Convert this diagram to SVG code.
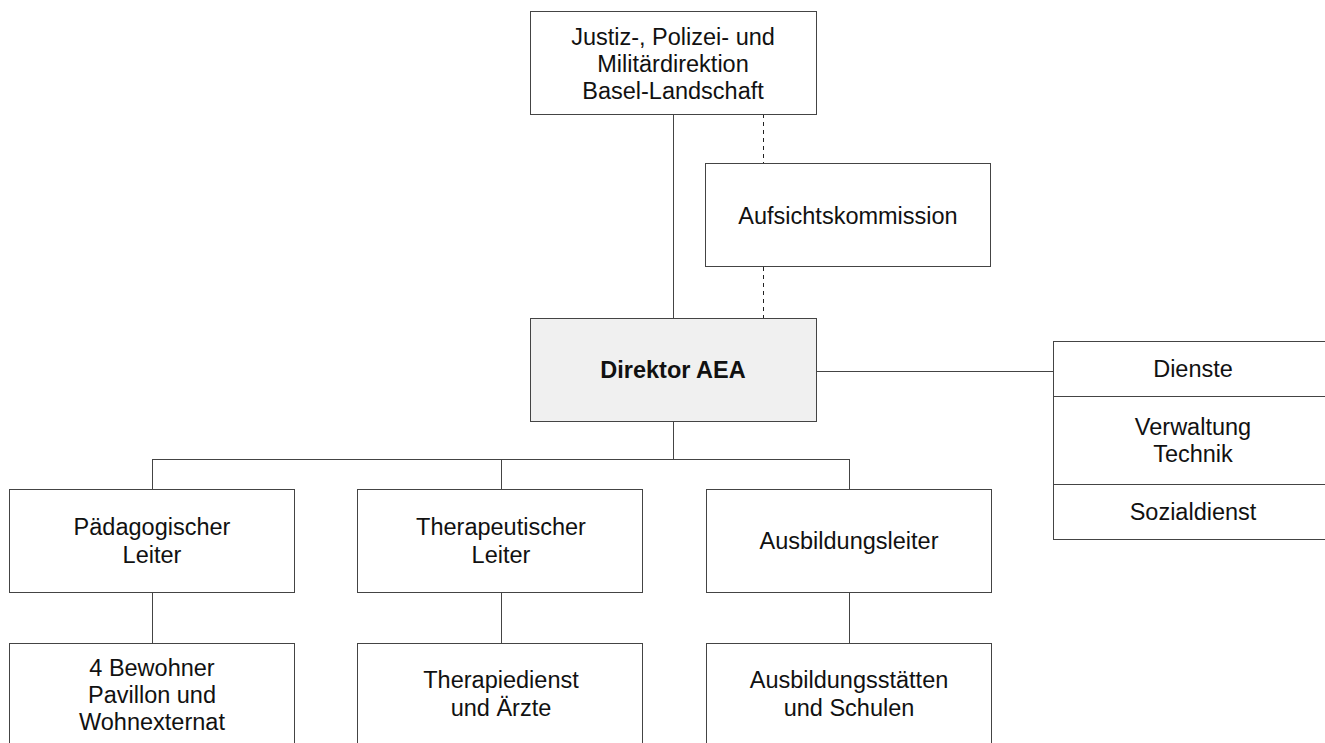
<svg xmlns="http://www.w3.org/2000/svg" width="1325" height="743" viewBox="0 0 1325 743">
<style>
.box{fill:#fff;stroke:#444;stroke-width:1}
.dir{fill:#f0f0f0;stroke:#444;stroke-width:1}
.t{font-family:"Liberation Sans",Arial,sans-serif;font-size:23.5px;fill:#111;text-anchor:middle}
.b{font-weight:bold}
.ln{stroke:#444;stroke-width:1;fill:none}
.dot{stroke:#222;stroke-width:1;fill:none;stroke-dasharray:4 4}
</style>
<rect width="1325" height="743" fill="#fff"/>
<g id="connectors">
<path class="ln" d="M673.5 114V318"/>
<path class="dot" d="M763.5 114V163"/>
<path class="dot" d="M763.5 267V318"/>
<path class="ln" d="M816 371.5H1053"/>
<path class="ln" d="M673.5 422V459.5"/>
<path class="ln" d="M152.5 459.5H849.5"/>
<path class="ln" d="M152.5 459V489"/>
<path class="ln" d="M501.5 459V489"/>
<path class="ln" d="M849.5 459V489"/>
<path class="ln" d="M152.5 593V643"/>
<path class="ln" d="M501.5 593V643"/>
<path class="ln" d="M849.5 593V643"/>
</g>
<g id="justiz">
<rect class="box" x="530.5" y="11.5" width="286" height="103"/>
<text class="t" x="673" y="45">Justiz-, Polizei- und</text>
<text class="t" x="673" y="72">Militärdirektion</text>
<text class="t" x="673" y="99">Basel-Landschaft</text>
</g>
<g id="aufsicht">
<rect class="box" x="705.5" y="163.5" width="285" height="103"/>
<text class="t" x="848" y="224">Aufsichtskommission</text>
</g>
<g id="direktor">
<rect class="dir" x="530.5" y="318.5" width="286" height="103"/>
<text class="t b" x="673" y="378">Direktor AEA</text>
</g>
<g id="dienste">
<rect class="box" x="1053.5" y="341.5" width="285" height="198"/>
<path class="ln" d="M1053 396.5H1338M1053 484.5H1338"/>
<text class="t" x="1193" y="377">Dienste</text>
<text class="t" x="1193" y="435">Verwaltung</text>
<text class="t" x="1193" y="462">Technik</text>
<text class="t" x="1193" y="520">Sozialdienst</text>
</g>
<g id="paed">
<rect class="box" x="9.5" y="489.5" width="285" height="103"/>
<text class="t" x="152" y="535">Pädagogischer</text>
<text class="t" x="152" y="563">Leiter</text>
</g>
<g id="thera">
<rect class="box" x="357.5" y="489.5" width="285" height="103"/>
<text class="t" x="501" y="535">Therapeutischer</text>
<text class="t" x="501" y="563">Leiter</text>
</g>
<g id="ausb">
<rect class="box" x="706.5" y="489.5" width="285" height="103"/>
<text class="t" x="849" y="549">Ausbildungsleiter</text>
</g>
<g id="bewohner">
<rect class="box" x="9.5" y="643.5" width="285" height="110"/>
<text class="t" x="152" y="676">4 Bewohner</text>
<text class="t" x="152" y="703">Pavillon und</text>
<text class="t" x="152" y="730">Wohnexternat</text>
</g>
<g id="therapiedienst">
<rect class="box" x="357.5" y="643.5" width="285" height="110"/>
<text class="t" x="501" y="688">Therapiedienst</text>
<text class="t" x="501" y="716">und Ärzte</text>
</g>
<g id="ausbstaetten">
<rect class="box" x="706.5" y="643.5" width="285" height="110"/>
<text class="t" x="849" y="688">Ausbildungsstätten</text>
<text class="t" x="849" y="716">und Schulen</text>
</g>
</svg>
